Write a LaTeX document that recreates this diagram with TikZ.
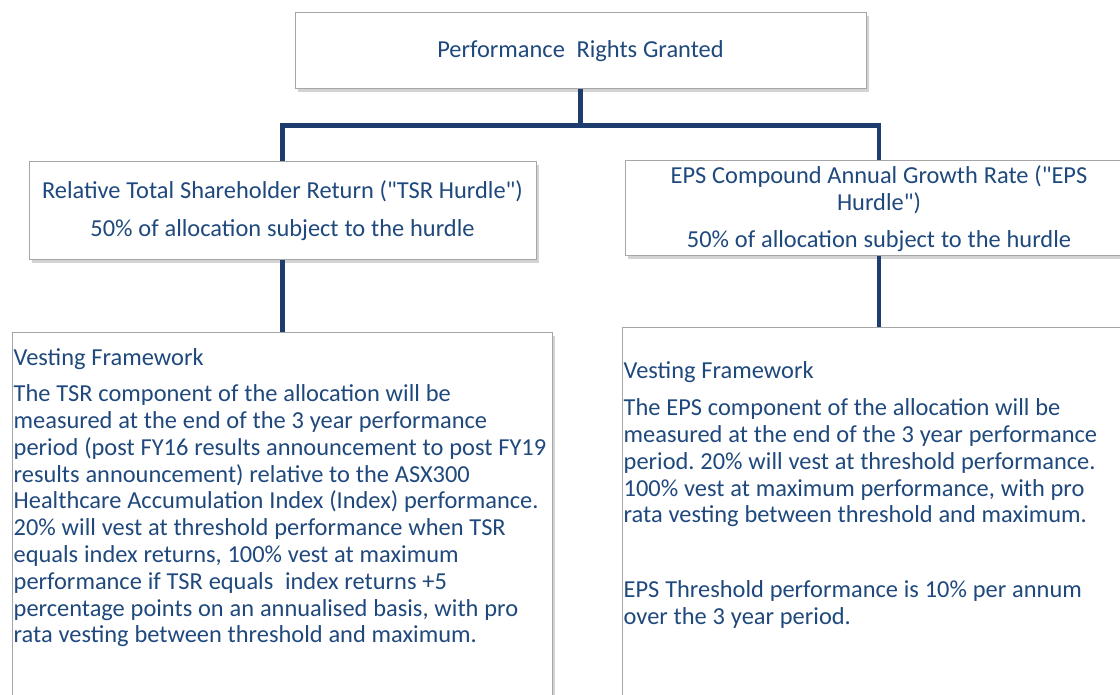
\documentclass[tikz,border=0pt]{standalone}
\usepackage{fontspec}
\setmainfont{Carlito}[Ligatures=TeXOff]
\usetikzlibrary{shadows}

\definecolor{testo}{HTML}{1F497D}
\definecolor{bordo}{HTML}{A6A6A6}
\definecolor{linea}{HTML}{1F3C6E}

\tikzset{
  box/.style={draw=bordo,line width=1pt,fill=white,
    drop shadow={shadow xshift=2.5pt,shadow yshift=-3pt,opacity=0.35}},
  boxtext/.style={text=testo,font=\fontsize{24.4}{26.8}\selectfont\frenchspacing,
    execute at begin node={\spaceskip=0.24em\relax\xspaceskip=0.24em\relax}},
  hurdle/.style={box,boxtext,minimum width=507,text width=500,align=center},
  vesttext/.style={boxtext,text width=600,align=left,inner sep=0pt},
  link/.style={linea,line width=4.5pt}
}

\begin{document}
\begin{tikzpicture}[x=1pt,y=-1pt]

        \useasboundingbox (0,0) rectangle (1120,695);
        \clip (0,0) rectangle (1120,695);

        % Performance rights
        \node[hurdle,minimum width=571,text width=560,minimum height=76] (granted) at (580.5,51)
            {Performance\ \ Rights Granted};

        % Hurdles
        \node[hurdle,minimum height=98] (tsr) at (282.5,211)
            {Relative Total Shareholder Return ("TSR Hurdle")\\[10.9pt]50\% of allocation subject to the hurdle};
        \node[hurdle,minimum height=95] (eps) at (879,208.5)
            {EPS Compound Annual Growth Rate ("EPS\\Hurdle")\\[10pt]50\% of allocation subject to the hurdle};

        % Vesting framework boxes
        \node[box,minimum width=540,minimum height=420,anchor=north west] (tsrvest) at (12,332) {};
        \node[box,minimum width=560,minimum height=420,anchor=north west] (epsvest) at (622,327) {};

        \node[vesttext,anchor=base west] (tsrtext) at (13.5,365) {Vesting Framework\\[9.9pt]
            The TSR component of the allocation will be\\
            measured at the end of the 3 year performance\\
            period (post FY16 results announcement to post FY19\\
            results announcement) relative to the ASX300\\
            Healthcare Accumulation Index (Index) performance.\\
            20\% will vest at threshold performance when TSR\\
            equals index returns, 100\% vest at maximum\\
            performance if TSR equals\ \ index returns +5\\
            percentage points on an annualised basis, with pro\\
            rata vesting between threshold and maximum.};

        \node[vesttext,anchor=base west] (epstext) at (623.5,378) {Vesting Framework\\[11pt]
            The EPS component of the allocation will be\\
            measured at the end of the 3 year performance\\
            period. 20\% will vest at threshold performance.\\
            100\% vest at maximum performance, with pro\\
            rata vesting between threshold and maximum.\\[48pt]
            EPS Threshold performance is 10\% per annum\\
            over the 3 year period.};

        % Connectors
        \draw[link] (granted.south) -- ++(0,36) -| (tsr.north);
        \draw[link] (granted.south) -- ++(0,36) -| (eps.north);
        \draw[link] (tsr.south) -- (tsrvest.north);
        \draw[link] (eps.south) -- (eps.south |- epsvest.north);

\end{tikzpicture}
\end{document}
